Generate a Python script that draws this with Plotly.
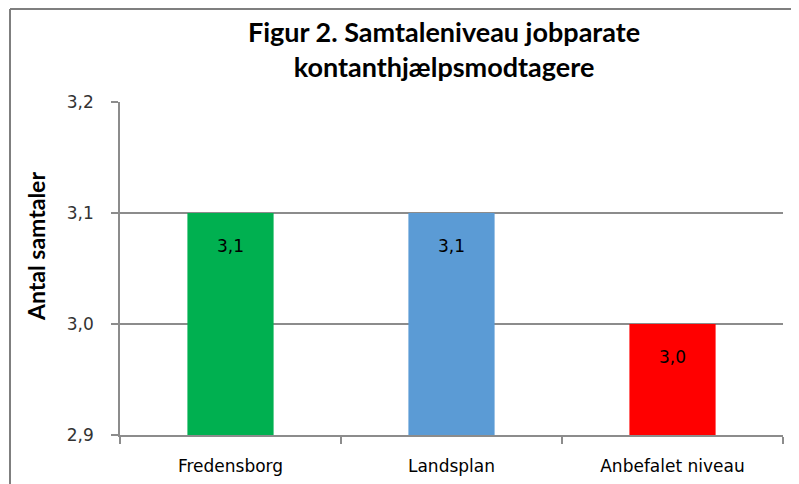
import plotly.graph_objects as go

categories = ["Fredensborg", "Landsplan", "Anbefalet niveau"]
values = [3.1, 3.1, 3.0]
colors = ["#00B050", "#5B9BD5", "#FF0000"]
y_ticks = [2.9, 3.0, 3.1, 3.2]
title_text = "Figur 2. Samtaleniveau jobparate<br>kontanthjælpsmodtagere"
y_title = "Antal samtaler"

W, H = 799, 484
L, R, T, B = 112, 24, 94, 57
PW, PH = W - L - R, H - T - B

fig = go.Figure()
fig.add_trace(go.Bar(
    x=categories, y=values, marker=dict(color=colors, line=dict(width=0)),
    width=0.39, hoverinfo="skip",
))

for c, v in zip(categories, values):
    fig.add_annotation(
        x=c, y=v, text=f"{v:.1f}".replace(".", ","), showarrow=False,
        yshift=-33, font=dict(family="DejaVu Sans", size=17, color="#000000"),
    )

# y-axis title as a rotated annotation (placed like the reference)
fig.add_annotation(
    xref="paper", yref="paper", x=(28 - L) / PW, y=(H - B - 239) / PH,
    text=f"<b>{y_title}</b>", showarrow=False, textangle=-90,
    xanchor="center", yanchor="middle",
    font=dict(family="Lato", size=23, color="#000000"),
)

axis_color = "#8c8c8c"
fig.update_layout(
    width=W, height=H,
    margin=dict(l=L, r=R, t=T, b=B),
    paper_bgcolor="white", plot_bgcolor="white",
    separators=",.",
    showlegend=False,
    title=dict(text=title_text, x=436 / W, xanchor="center", y=0.929, yanchor="top",
               font=dict(family="Lato", size=27, color="#000000", weight="bold")),
    xaxis=dict(
        showline=True, linecolor=axis_color, linewidth=1.5,
        ticks="outside", tickson="boundaries", ticklen=7, tickcolor=axis_color, tickwidth=1.5,
        tickfont=dict(family="DejaVu Sans", size=17, color="#000000"),
        ticklabelstandoff=15,
        showgrid=False,
    ),
    yaxis=dict(
        range=[2.9, 3.2], tickvals=y_ticks, tickformat=".1f",
        showline=True, linecolor=axis_color, linewidth=1.5,
        ticks="outside", ticklen=7, tickcolor=axis_color, tickwidth=1.5,
        showgrid=True, gridcolor=axis_color, gridwidth=1.5,
        tickfont=dict(family="DejaVu Sans", size=17, color="#333333"),
        ticklabelstandoff=14,
        zeroline=False,
    ),
)

# outer chart frame (top and left edges visible)
fx = (2 - L) / PW
fy = (H - B - 1) / PH
fig.add_shape(type="line", xref="paper", yref="paper",
              x0=fx, x1=1.1, y0=fy, y1=fy,
              line=dict(color="#7f7f7f", width=2))
fig.add_shape(type="line", xref="paper", yref="paper",
              x0=fx, x1=fx, y0=fy, y1=-0.3,
              line=dict(color="#7f7f7f", width=2))

fig.write_html("out.html")
